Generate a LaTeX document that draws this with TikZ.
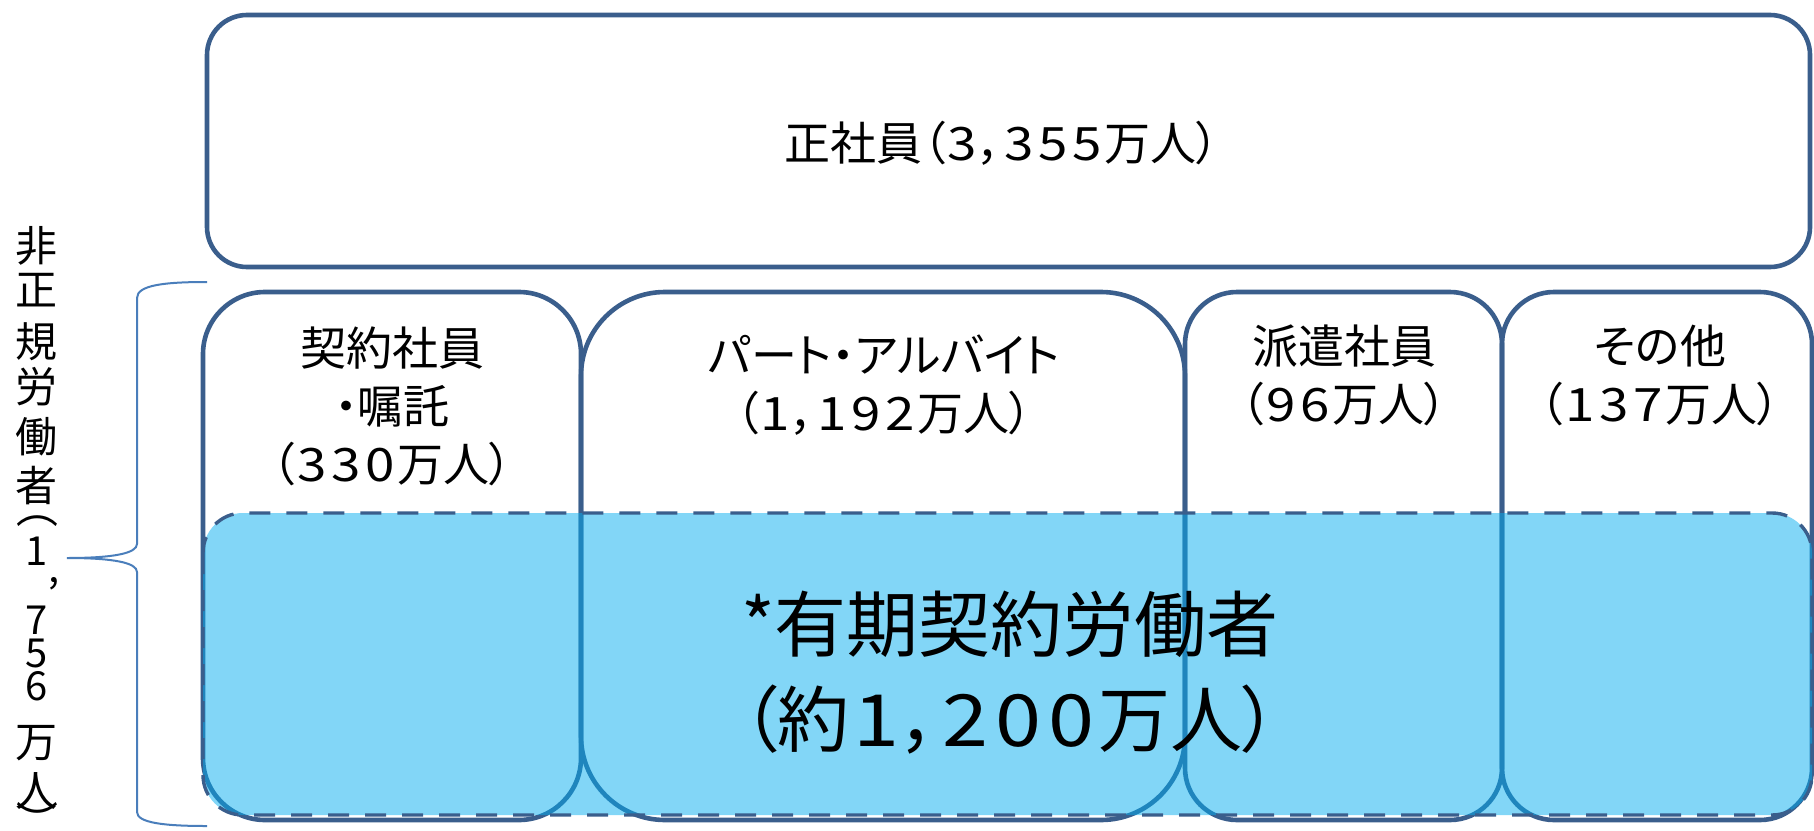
\documentclass[tikz,border=0pt]{standalone}
\usepackage{fontspec}
\setmainfont{Noto Sans CJK JP}[RawFeature=+palt]
\newcommand\dgt[1]{\makebox[0.74em]{\scalebox{1.15}[1]{#1}}}
\newcommand\vparen[1]{\rotatebox[origin=c]{-90}{#1}}
\definecolor{boxblue}{RGB}{58,94,140}
\definecolor{fillblue}{RGB}{5,173,239}
\definecolor{bracecol}{RGB}{74,126,187}
\begin{document}
\begin{tikzpicture}[x=0.5pt,y=-0.5pt,
  box/.style={draw=boxblue,line width=2.3pt},
  lbl/.style={font=\fontsize{23pt}{29pt}\selectfont, align=center, inner sep=0pt},
  big/.style={font=\fontsize{36pt}{47.5pt}\selectfont, align=center, inner sep=0pt},
  vch/.style={font=\fontsize{21pt}{24pt}\selectfont, inner sep=0pt},
  vdg/.style={font=\fontsize{20pt}{16.5pt}\selectfont, align=center, inner sep=0pt},
  brace/.style={draw=bracecol, line width=1pt}]
\useasboundingbox (0,0) rectangle (1814,830);
% boxes
\draw[box, rounded corners=20pt] (207,15) rectangle (1810,267);
\draw[box, rounded corners=31pt] (203,292) rectangle (581,820);
\draw[box, rounded corners=42pt] (581,292) rectangle (1185,820);
\draw[box, rounded corners=26pt] (1185,292) rectangle (1502,820);
\draw[box, rounded corners=26pt] (1502,292) rectangle (1812,820);
% blue overlay
\fill[fillblue, fill opacity=0.5, rounded corners=20pt] (203,513) rectangle (1812,815);
\draw[boxblue, line width=1.7pt, dash pattern=on 10.5pt off 8pt, rounded corners=20pt] (203,513) rectangle (1812,815);
% labels
\node[lbl] (t0) at (1002,143) {正社員（\dgt3，\dgt3\dgt5\dgt5万人）};
\node[lbl] (t1) at (392,406) {契約社員\\・嘱託\\（\dgt3\dgt3\dgt0万人）};
\node[lbl] (t2) at (884,385) {パート・アルバイト\\（\dgt1，\dgt1\dgt9\dgt2万人）};
\node[lbl] (t3) at (1344,375) {派遣社員\\（\dgt9\dgt6万人）};
\node[lbl] (t4) at (1660,375) {その他\\（\dgt1\dgt3\dgt7万人）};
\node[big] (t5) at (1010,673) {*有期契約労働者\\（約\dgt1，\dgt2\dgt0\dgt0万人）};
% vertical text
\node[vch] (v1) at (37,246) {非};
\node[vch] (v2) at (37,290) {正};
\node[vch] (v3) at (37,342) {規};
\node[vch] (v4) at (37,387) {労};
\node[vch] (v5) at (37,437) {働};
\node[vch] (v6) at (37,486) {者};
\node[vch] (v7) at (37,519) {\vparen{（}};
\node[vdg] (v8) at (37,551) {1};
\node[vdg] (v9) at (54,584) {,};
\node[vdg] (v10) at (37,653) {7\\5\\6};
\node[vch] (v13) at (37,743) {万};
\node[vch] (v14) at (37,791) {人};
\node[vch] (v15) at (37,815) {\vparen{）}};
% brace
\coordinate (bt) at (207,282);
\coordinate (bm) at (67,558);
\coordinate (bb) at (207,826);
\draw[brace] (bt) .. controls (165,282) and (137,285) .. (137,298) -- (137,544)
  .. controls (137,553) and (115,558) .. (bm)
  .. controls (115,558) and (137,563) .. (137,572) -- (137,812)
  .. controls (137,823) and (165,826) .. (bb);
\end{tikzpicture}
\end{document}
